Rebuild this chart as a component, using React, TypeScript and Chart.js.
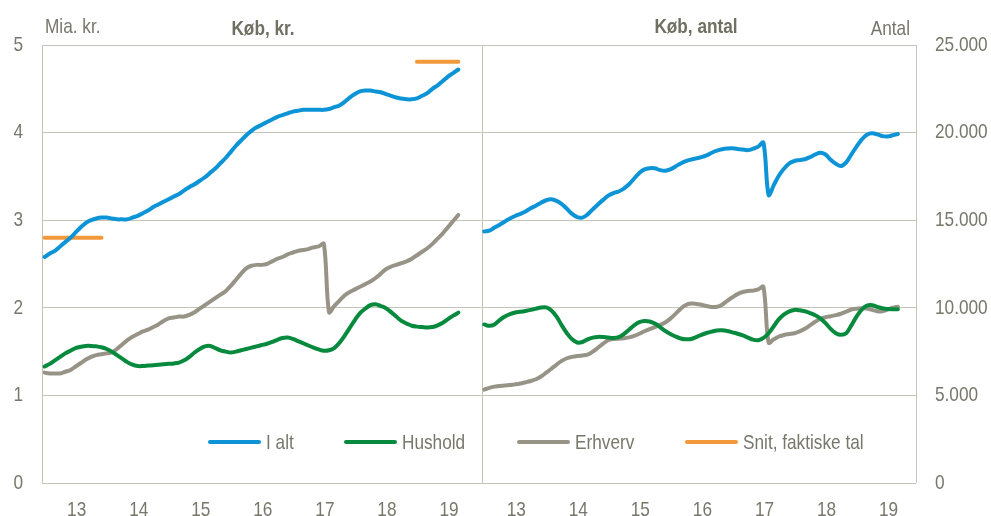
import React, { useEffect, useRef } from 'react';
import { Chart, registerables } from 'chart.js';

Chart.register(...registerables);

// ---------- data ----------
const yearLabels = ['13', '14', '15', '16', '17', '18', '19'];

// Left panel: Køb, kr. (mia. kr.), monthly Jan 2013 - Sep 2019
const ialtKr = [
  2.58, 2.62, 2.65, 2.70, 2.75, 2.80, 2.86, 2.92, 2.97, 3.00, 3.02, 3.03,
  3.03, 3.02, 3.01, 3.01, 3.01, 3.03, 3.05, 3.08, 3.11, 3.15, 3.18, 3.21,
  3.24, 3.27, 3.30, 3.34, 3.38, 3.41, 3.45, 3.49, 3.54, 3.59, 3.65, 3.71,
  3.78, 3.85, 3.91, 3.97, 4.02, 4.06, 4.09, 4.12, 4.15, 4.18, 4.20, 4.22,
  4.24, 4.25, 4.26, 4.26, 4.26, 4.26, 4.26, 4.27, 4.29, 4.31, 4.35, 4.40,
  4.44, 4.47, 4.48, 4.48, 4.47, 4.46, 4.44, 4.42, 4.40, 4.39, 4.38, 4.38,
  4.39, 4.42, 4.45, 4.50, 4.54, 4.59, 4.64, 4.68, 4.72,
];
const husholdKr = [
  1.33, 1.36, 1.40, 1.44, 1.48, 1.51, 1.54, 1.555, 1.565, 1.565, 1.56, 1.55,
  1.53, 1.50, 1.46, 1.42, 1.38, 1.35, 1.335, 1.335, 1.34, 1.345, 1.35, 1.355,
  1.36, 1.365, 1.375, 1.40, 1.44, 1.49, 1.53, 1.56, 1.565, 1.54, 1.515, 1.50,
  1.49, 1.50, 1.515, 1.53, 1.545, 1.56, 1.575, 1.59, 1.61, 1.635, 1.655, 1.66,
  1.645, 1.62, 1.595, 1.57, 1.545, 1.525, 1.51, 1.515, 1.54, 1.60, 1.68, 1.77,
  1.86, 1.94, 1.99, 2.03, 2.04, 2.02, 1.995, 1.95, 1.90, 1.85, 1.82, 1.795,
  1.785, 1.78, 1.775, 1.78, 1.80, 1.83, 1.87, 1.91, 1.945,
];
const erhvervKr = [
  1.26, 1.25, 1.25, 1.25, 1.27, 1.29, 1.33, 1.37, 1.41, 1.44, 1.46, 1.47,
  1.48, 1.49, 1.53, 1.58, 1.63, 1.67, 1.70, 1.73, 1.75, 1.78, 1.81, 1.85,
  1.88, 1.89, 1.90, 1.90, 1.92, 1.95, 1.99, 2.03, 2.07, 2.11, 2.15, 2.19,
  2.25, 2.32, 2.39, 2.45, 2.48, 2.49, 2.49, 2.50, 2.53, 2.56, 2.58, 2.61,
  2.63, 2.65, 2.66, 2.67, 2.69, 2.70, 2.73, 1.95, 2.02, 2.08, 2.14, 2.18,
  2.21, 2.24, 2.27, 2.30, 2.34, 2.39, 2.44, 2.47, 2.49, 2.51, 2.53, 2.56,
  2.60, 2.64, 2.68, 2.73, 2.79, 2.85, 2.92, 2.99, 3.06,
];
// "Snit, faktiske tal": average of actual figures, 2013 and Jan-Sep 2019
const snit2013 = 2.80;
const snit2019 = 4.81;

// Right panel: Køb, antal
const ialtAntal = [
  14360, 14400, 14580, 14740, 14930, 15100, 15240, 15360, 15500, 15680, 15830, 16000,
  16140, 16190, 16100, 15920, 15650, 15360, 15180, 15150, 15330, 15620, 15900, 16160,
  16400, 16550, 16640, 16800, 17050, 17380, 17700, 17900, 17970, 17960, 17860, 17820,
  17900, 18070, 18240, 18370, 18460, 18530, 18600, 18700, 18850, 18970, 19050, 19090,
  19100, 19070, 19030, 19000, 19080, 19200, 19430, 16440, 17000, 17550, 17950, 18250,
  18380, 18430, 18480, 18600, 18750, 18850, 18750, 18450, 18220, 18090, 18300, 18750,
  19200, 19600, 19880, 19960, 19900, 19800, 19780, 19850, 19920,
];
const husholdAntal = [
  9050, 8970, 9050, 9300, 9500, 9640, 9730, 9770, 9820, 9880, 9950, 10020,
  10020, 9850, 9500, 9000, 8550, 8200, 8020, 8050, 8200, 8300, 8340, 8330,
  8300, 8280, 8320, 8500, 8750, 9000, 9180, 9250, 9220, 9100, 8900, 8680,
  8500, 8360, 8250, 8200, 8220, 8330, 8460, 8560, 8640, 8710, 8720, 8680,
  8600, 8520, 8420, 8300, 8180, 8150, 8280, 8550, 8950, 9350, 9620, 9800,
  9880, 9860, 9800, 9700, 9580, 9400, 9120, 8800, 8550, 8460, 8550, 9000,
  9500, 9900, 10120, 10150, 10050, 9970, 9930, 9920, 9920,
];
const erhvervAntal = [
  5330, 5430, 5500, 5540, 5560, 5590, 5630, 5680, 5750, 5820, 5920, 6080,
  6300, 6520, 6760, 6970, 7120, 7200, 7250, 7280, 7330, 7500, 7720, 7950,
  8150, 8220, 8240, 8260, 8310, 8400, 8520, 8660, 8780, 8900, 9020, 9160,
  9380, 9650, 9950, 10160, 10240, 10220, 10170, 10100, 10050, 10060, 10180, 10400,
  10600, 10780, 10900, 10960, 10980, 11050, 11200, 8010, 8200, 8360, 8450, 8500,
  8550, 8650, 8800, 9000, 9200, 9360, 9460, 9520, 9580, 9660, 9780, 9900,
  9950, 9970, 9960, 9880, 9800, 9800, 9900, 10000, 10060,
];

const legendLabels = ['I alt', 'Hushold', 'Erhverv', 'Snit, faktiske tal'];

// ---------- style ----------
const FONT = '"Liberation Sans", Arial, sans-serif';
const FS = 21;
const NARROW = 0.82; // horizontal condensing, emulating Arial Narrow
const TEXT = '#77776b';
const TITLE = '#6f6f62';
const GRID = '#c6c4b6';
const BLUE = '#0d94d7';
const GREEN = '#078a3d';
const GRAY = '#979487';
const ORANGE = '#f4993a';
const LW = 4;

const PANEL = 85; // x-domain width (months) of each panel
const X_MAX = 169;
const TICK_OFF = 6.7;

const toPts = (vals: (number | null)[], offset: number) =>
  vals.map((v, i) => ({ x: offset + i + 0.5, y: v }));

const snitSeries: (number | null)[] = ialtKr.map((_, i) =>
  i <= 11 ? snit2013 : i >= 72 ? snit2019 : null
);

const line = (label: string, data: any[], color: string, axis: string, tension = 0.35) => ({
  label,
  data,
  borderColor: color,
  backgroundColor: color,
  borderWidth: LW,
  pointRadius: 0,
  pointHoverRadius: 0,
  tension,
  borderCapStyle: 'round' as const,
  borderJoinStyle: 'round' as const,
  spanGaps: false,
  yAxisID: axis,
  fill: false,
});

const overlayPlugin = {
  id: 'overlay',
  beforeDatasetsDraw(chart: any) {
    const { ctx, chartArea, scales } = chart;
    ctx.save();
    ctx.strokeStyle = GRID;
    ctx.lineWidth = 1;
    const xs = [chartArea.left, scales.x.getPixelForValue(PANEL), chartArea.right];
    xs.forEach((x: number) => {
      const px = Math.round(x) + 0.5;
      ctx.beginPath();
      ctx.moveTo(px, chartArea.top);
      ctx.lineTo(px, chartArea.bottom);
      ctx.stroke();
    });
    ctx.restore();
  },
  afterDraw(chart: any) {
    const { ctx } = chart;
    ctx.save();
    ctx.textBaseline = 'alphabetic';
    ctx.fillStyle = TEXT;
    ctx.font = `${FS}px ${FONT}`;
    ctx.textAlign = 'left';
    ctx.fillText('Mia. kr.', 45, 33);
    ctx.textAlign = 'right';
    ctx.fillText('Antal', 910, 35);
    ctx.fillStyle = TITLE;
    ctx.font = `bold ${FS}px ${FONT}`;
    ctx.textAlign = 'center';
    ctx.fillText('Køb, kr.', 263, 35);
    ctx.fillText('Køb, antal', 696, 33);

    // legend
    const colors = [BLUE, GREEN, GRAY, ORANGE];
    const starts = [210, 346, 519, 687];
    const ly = 442;
    ctx.font = `${FS}px ${FONT}`;
    ctx.textAlign = 'left';
    legendLabels.forEach((lab, i) => {
      ctx.strokeStyle = colors[i];
      ctx.lineWidth = LW;
      ctx.lineCap = 'round';
      ctx.beginPath();
      ctx.moveTo(starts[i], ly);
      ctx.lineTo(starts[i] + 49, ly);
      ctx.stroke();
      ctx.fillStyle = TEXT;
      ctx.fillText(lab, starts[i] + 56, 449);
    });
    ctx.restore();
  },
};

export default function App() {
  const ref = useRef<HTMLCanvasElement | null>(null);

  useEffect(() => {
    if (!ref.current) return;
    const ctx = ref.current.getContext('2d') as any;
    // condense all text drawn on this canvas horizontally around its anchor point
    if (ctx && !ctx.__narrow) {
      const orig = ctx.fillText.bind(ctx);
      ctx.fillText = (text: string, x: number, y: number, maxWidth?: number) => {
        ctx.save();
        ctx.translate(x, y);
        ctx.scale(NARROW, 1);
        if (maxWidth !== undefined) orig(text, 0, 0, maxWidth / NARROW);
        else orig(text, 0, 0);
        ctx.restore();
      };
      ctx.__narrow = true;
    }

    const tickPositions: number[] = [];
    [0, PANEL].forEach((off) =>
      yearLabels.forEach((_, k) => tickPositions.push(off + TICK_OFF + 12 * k))
    );

    const chart = new Chart(ref.current, {
      type: 'line',
      data: {
        datasets: [
          line('I alt', toPts(ialtKr, 0), BLUE, 'y'),
          line('Hushold', toPts(husholdKr, 0), GREEN, 'y'),
          line('Erhverv', toPts(erhvervKr, 0), GRAY, 'y'),
          line('Snit, faktiske tal', toPts(snitSeries, 0), ORANGE, 'y', 0),
          line('I alt antal', toPts(ialtAntal, PANEL), BLUE, 'y2'),
          line('Hushold antal', toPts(husholdAntal, PANEL), GREEN, 'y2'),
          line('Erhverv antal', toPts(erhvervAntal, PANEL), GRAY, 'y2'),
        ],
      },
      options: {
        animation: false,
        responsive: false,
        devicePixelRatio: 1,
        layout: { padding: { top: 45, left: 0, right: 0, bottom: 0 } },
        plugins: {
          legend: { display: false },
          title: { display: false },
          tooltip: { enabled: false },
        },
        scales: {
          x: {
            type: 'linear',
            min: 0,
            max: X_MAX,
            grid: { display: false, drawTicks: false },
            border: { display: false },
            afterBuildTicks: (axis: any) => {
              axis.ticks = tickPositions.map((v) => ({ value: v }));
            },
            afterFit: (axis: any) => {
              axis.height = 33;
            },
            ticks: {
              autoSkip: false,
              maxRotation: 0,
              padding: 15,
              color: TEXT,
              font: { family: FONT, size: FS },
              callback: (_v: any, i: number) => yearLabels[i % yearLabels.length],
            },
          },
          y: {
            position: 'left',
            min: 0,
            max: 5,
            grid: { color: GRID, drawTicks: false, lineWidth: 1 },
            border: { display: false },
            afterFit: (axis: any) => {
              axis.width = 42;
            },
            ticks: {
              stepSize: 1,
              padding: 19,
              color: TEXT,
              font: { family: FONT, size: FS },
            },
          },
          y2: {
            position: 'right',
            min: 0,
            max: 25000,
            grid: { display: false, drawTicks: false },
            border: { display: false },
            afterFit: (axis: any) => {
              axis.width = 75;
            },
            ticks: {
              stepSize: 5000,
              padding: 19,
              color: TEXT,
              font: { family: FONT, size: FS },
              callback: (v: any) => (v === 0 ? '0' : `${Math.round(v / 1000)}.000`),
            },
          },
        },
      },
      plugins: [overlayPlugin],
    });
    return () => chart.destroy();
  }, []);

  return (
    <div style={{ position: 'fixed', left: 0, top: 0, width: 991, height: 516, background: '#fff' }}>
      <canvas ref={ref} width={991} height={516} style={{ width: 991, height: 516, display: 'block' }} />
    </div>
  );
}
